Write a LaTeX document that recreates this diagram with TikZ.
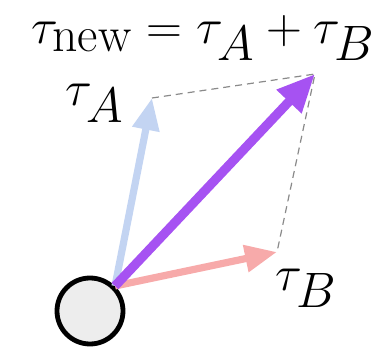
\documentclass[tikz,border=0pt]{standalone}
\usetikzlibrary{arrows.meta,positioning}
\usepackage{xcolor}
\definecolor{TauA}{HTML}{C3D4F2}
\definecolor{TauB}{HTML}{F7AAAA}
\definecolor{TauNew}{HTML}{A652F2}
\definecolor{DashGray}{HTML}{8A8A8A}
\definecolor{ObjFill}{HTML}{EDEDED}

\begin{document}
\begin{tikzpicture}[x=0.5pt, y=-0.5pt,
  vec/.style={line width=3.6pt, -{Triangle[length=16pt, width=13pt]}},
  sumvec/.style={line width=4.6pt, -{Triangle[length=19pt, width=16pt]}},
  guide/.style={DashGray, line width=0.6pt, dash pattern=on 3.5pt off 2.5pt},
  lbl/.style={font=\fontsize{33}{38}\selectfont, inner sep=0pt}
]
  \useasboundingbox (0,0) rectangle (388,349);
  \node[circle, draw=black, line width=2.4pt, fill=ObjFill, minimum size=33pt, inner sep=0pt]
    (obj) at (90,311) {};
  \coordinate (tA)   at (152,98);
  \coordinate (tB)   at (277,252);
  \coordinate (tNew) at (315,74);
  % parallelogram
  \draw[guide] (tA) -- (tNew) -- (tB);
  \draw[vec, TauA] (obj.45) -- (tA);
  \draw[vec, TauB] (obj.45) -- (tB);
  \draw[sumvec, TauNew] (obj.45) -- (tNew);
  \node[lbl] (labA) at (95,103) {$\tau_A$};
  \node[lbl] (labB) at (306,288) {$\tau_B$};
  \node[lbl] (title) at (203,38) {$\tau_{\mathrm{new}} = \tau_A + \tau_B$};
\end{tikzpicture}
\end{document}
